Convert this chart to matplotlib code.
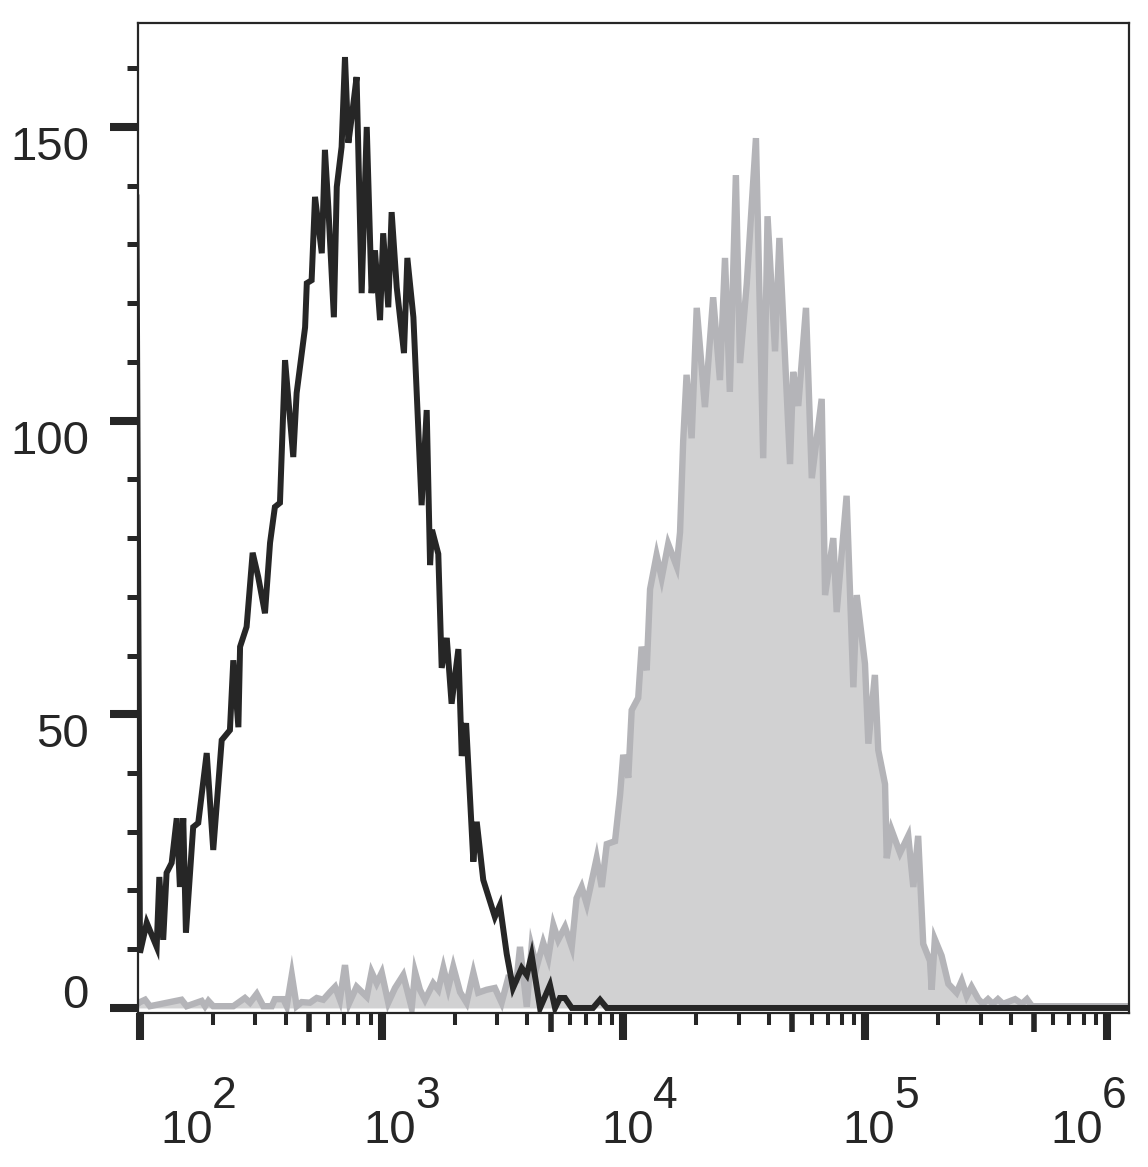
import numpy as np
import matplotlib.pyplot as plt
from matplotlib.ticker import FixedLocator, LogLocator, MultipleLocator, NullFormatter

plt.rcParams['font.family'] = ['Liberation Sans', 'DejaVu Sans']

# black histogram (isotype / unstained), x as log10 of fluorescence
black_log_x = [1.985, 2.000, 2.028, 2.069, 2.080, 2.096, 2.110, 2.131, 2.152, 2.165,
               2.179, 2.190, 2.220, 2.241, 2.276, 2.303, 2.338, 2.372, 2.386, 2.407,
               2.414, 2.441, 2.466, 2.489, 2.517, 2.538, 2.558, 2.579, 2.600, 2.634,
               2.648, 2.683, 2.690, 2.710, 2.724, 2.752, 2.765, 2.779, 2.802, 2.814,
               2.834, 2.848, 2.862, 2.876, 2.896, 2.917, 2.938, 2.958, 2.972, 2.993,
               3.006, 3.027, 3.041, 3.062, 3.092, 3.106, 3.131, 3.165, 3.186, 3.200,
               3.208, 3.234, 3.248, 3.269, 3.289, 3.317, 3.331, 3.349, 3.379, 3.393,
               3.420, 3.468, 3.489, 3.517, 3.543, 3.579, 3.600, 3.620, 3.641, 3.655,
               3.696, 3.717, 3.737, 3.758, 3.786, 3.874, 3.903, 3.931, 6.100]
black_counts = [138, 9.4, 14.5, 10.4, 22.3, 11.6, 23.0, 24.7, 32.3, 20.6,
                32.3, 12.8, 30.8, 31.5, 43.4, 26.9, 45.6, 47.3, 59.2, 47.8,
                61.5, 64.9, 77.5, 73.4, 67.2, 79.2, 85.3, 86.0, 110.3, 93.8,
                104.7, 115.9, 123.4, 123.9, 138.1, 128.5, 146.1, 136.4, 117.6, 139.8,
                146.6, 161.9, 147.3, 151.7, 158.5, 121.7, 150.0, 121.7, 129.0, 117.1,
                131.9, 119.3, 135.5, 122.7, 111.5, 127.7, 117.6, 85.6, 101.8, 75.4,
                81.4, 77.3, 57.9, 63.0, 51.8, 61.1, 42.9, 48.5, 24.9, 31.7,
                21.8, 15.5, 17.5, 9.2, 3.4, 6.8, 5.6, 9.0, 3.6, 0,
                3.9, 0, 1.7, 1.7, 0, 0, 1.4, 0, 0]

# grey filled histogram (stained sample)
gray_log_x = [1.990, 2.000, 2.021, 2.041, 2.172, 2.193, 2.255, 2.269, 2.283, 2.303,
              2.386, 2.434, 2.455, 2.483, 2.510, 2.545, 2.558, 2.593, 2.607, 2.628,
              2.648, 2.669, 2.703, 2.731, 2.758, 2.786, 2.807, 2.827, 2.848, 2.866,
              2.896, 2.938, 2.958, 2.979, 3.000, 3.027, 3.055, 3.089, 3.124, 3.138,
              3.158, 3.179, 3.213, 3.234, 3.255, 3.275, 3.296, 3.324, 3.351, 3.379,
              3.399, 3.434, 3.468, 3.496, 3.523, 3.558, 3.572, 3.600, 3.620, 3.641,
              3.668, 3.689, 3.710, 3.730, 3.758, 3.786, 3.806, 3.827, 3.848, 3.889,
              3.910, 3.931, 3.965, 3.986, 3.999, 4.020, 4.034, 4.061, 4.075, 4.096,
              4.110, 4.137, 4.158, 4.185, 4.220, 4.234, 4.247, 4.261, 4.282, 4.303,
              4.337, 4.371, 4.399, 4.420, 4.440, 4.465, 4.482, 4.510, 4.548, 4.578,
              4.596, 4.627, 4.645, 4.689, 4.702, 4.723, 4.755, 4.779, 4.820, 4.834,
              4.868, 4.882, 4.923, 4.951, 4.965, 4.999, 5.013, 5.040, 5.054, 5.082,
              5.089, 5.109, 5.144, 5.178, 5.199, 5.219, 5.240, 5.268, 5.275, 5.288,
              5.316, 5.344, 5.378, 5.399, 5.420, 5.440, 5.468, 5.487, 5.508, 5.528,
              5.549, 5.570, 5.620, 5.648, 5.669, 5.690, 6.100]
gray_counts = [0.7, 1.0, 1.4, 0.3, 1.4, 0.3, 1.2, 0.3, 1.2, 0.3,
               0.3, 1.7, 0.9, 2.4, 0.3, 0.3, 1.5, 1.5, 0.3, 5.6,
               0.3, 1.0, 0.9, 1.7, 1.4, 2.7, 3.6, 1.4, 7.3, 0.9,
               3.6, 1.9, 6.1, 4.2, 6.0, 0.9, 3.4, 5.6, 0.0, 6.1,
               3.1, 1.4, 4.2, 3.1, 6.8, 3.4, 7.0, 2.7, 0.9, 6.0,
               2.6, 3.1, 3.4, 0.9, 5.1, 4.8, 10.4, 0.2, 10.4, 7.0,
               11.1, 8.5, 14.1, 11.6, 13.8, 10.4, 18.7, 20.6, 17.7, 25.5,
               20.6, 27.9, 28.4, 36.3, 43.1, 39.2, 50.7, 52.8, 61.5, 57.5,
               71.3, 77.1, 73.2, 79.0, 75.2, 81.0, 96.5, 107.8, 97.0, 119.2,
               102.3, 121.0, 106.9, 127.7, 104.9, 141.8, 109.8, 123.3, 148.1, 93.6,
               134.8, 111.8, 131.1, 92.6, 108.3, 102.5, 119.2, 90.2, 103.7, 70.3,
               80.0, 67.4, 87.2, 54.6, 70.3, 58.6, 45.0, 56.7, 43.9, 38.1,
               25.5, 30.3, 26.4, 29.3, 20.6, 29.3, 10.9, 8.0, 3.1, 11.7,
               8.9, 4.1, 2.6, 4.6, 2.0, 3.6, 1.5, 0.7, 1.5, 0.7,
               1.5, 0.7, 1.5, 0.7, 1.5, 0.3, 0.3]

decades = [2, 3, 4, 5, 6]
y_major = [0, 50, 100, 150]

ink = '#262626'

fig = plt.figure(figsize=(11.48, 11.67), dpi=100)
ax = fig.add_axes([0.1202, 0.1320, 0.8632, 0.8483])

xg = np.power(10.0, gray_log_x)
xb = np.power(10.0, black_log_x)

ax.fill_between(xg, 0, gray_counts, color='#d1d1d2', lw=0, zorder=1)
ax.plot(xg, gray_counts, color='#b4b4b8', lw=4.6, solid_joinstyle='miter', zorder=2)
ax.plot(xb, black_counts, color=ink, lw=4.3, solid_joinstyle='miter', zorder=3)

ax.set_xscale('log')
ax.set_xlim(10 ** 1.9917, 10 ** 6.091)
ax.set_ylim(-0.85, 167.7)

# x ticks: decades long, 5x medium, rest short
ax.xaxis.set_major_locator(FixedLocator([10.0 ** d for d in decades]))
ax.xaxis.set_minor_locator(LogLocator(base=10, subs=[2, 3, 4, 6, 7, 8, 9], numticks=30))
ax.xaxis.set_major_formatter(NullFormatter())
ax.xaxis.set_minor_formatter(NullFormatter())
ax.tick_params(axis='x', which='major', direction='out', length=19.4, width=5.8, color=ink)
ax.tick_params(axis='x', which='minor', direction='out', length=8.6, width=2.9, color=ink)
mid_x = [5 * 10.0 ** d for d in decades[:-1]]
ax.plot(mid_x, np.zeros(len(mid_x)), transform=ax.get_xaxis_transform(), ls='none',
        marker=3, ms=13.7, mew=4.0, color=ink, clip_on=False)

ax.yaxis.set_major_locator(FixedLocator(y_major))
ax.yaxis.set_minor_locator(MultipleLocator(10))
ax.yaxis.set_major_formatter(NullFormatter())
ax.tick_params(axis='y', which='major', direction='out', length=20, width=5.8, color=ink)
ax.tick_params(axis='y', which='minor', direction='out', length=8, width=3.6, color=ink)

for sp in ax.spines.values():
    sp.set_linewidth(1.6)
    sp.set_color(ink)

# tick labels written by hand, like the cytometer software does
x_off = [20, -18, -22, -23, -57]
for d, dx in zip(decades, x_off):
    ax.annotate('10', xy=(10.0 ** d, 0), xycoords=ax.get_xaxis_transform(),
                xytext=(dx, -130), textcoords='offset pixels',
                ha='left', va='baseline', fontsize=34, color=ink, annotation_clip=False)
    ax.annotate(str(d), xy=(10.0 ** d, 0), xycoords=ax.get_xaxis_transform(),
                xytext=(dx + 52, -95), textcoords='offset pixels',
                ha='left', va='baseline', fontsize=32, color=ink, annotation_clip=False)

for v in y_major:
    dy = 0 if v == 0 else -33
    ax.annotate(str(v), xy=(0, v), xycoords=ax.get_yaxis_transform(),
                xytext=(-49, dy), textcoords='offset pixels',
                ha='right', va='baseline', fontsize=34, color=ink, annotation_clip=False)

fig.savefig('out.png', dpi=100)
